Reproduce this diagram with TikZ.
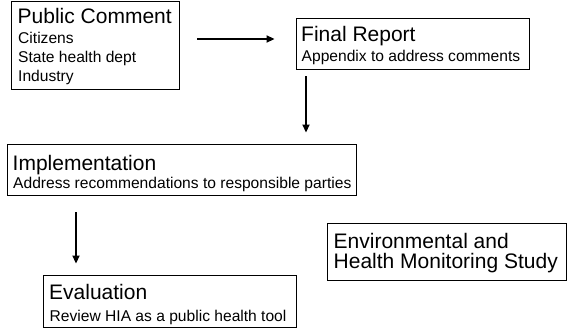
\documentclass[tikz,border=0pt]{standalone}
\usepackage{fontspec}
\setmainfont{Liberation Sans}
\usetikzlibrary{arrows.meta}
\tikzset{
  box/.style={draw=black, line width=0.9pt, inner sep=0pt},
  ttl/.style={anchor=base west, inner sep=0pt, font=\fontsize{21}{25}\selectfont},
  sub/.style={anchor=base west, inner sep=0pt, font=\fontsize{15.6}{19}\selectfont},
  arr/.style={line width=1.8pt, -{Triangle[length=8pt,width=7pt]}}
}
\begin{document}
\begin{tikzpicture}[x=1pt,y=-1pt]
\useasboundingbox (0,0) rectangle (571,329);
% boxes
\node[box, minimum width=168pt, minimum height=88pt] (pc) at (95,45) {};
\node[box, minimum width=233pt, minimum height=51pt] (fr) at (412.5,43.5) {};
\node[box, minimum width=349pt, minimum height=51pt] (impl) at (181.5,169.5) {};
\node[box, minimum width=253pt, minimum height=52pt] (ev) at (169.5,301) {};
\node[box, minimum width=239pt, minimum height=57pt] (env) at (446.5,251.5) {};
% texts
\node[ttl] (pct) at (17.5,24) {Public Comment};
\node[sub] (pc1) at (18,44) {Citizens};
\node[sub] (pc2) at (18,63) {State health dept};
\node[sub] (pc3) at (18,82) {Industry};
\node[ttl] (frt) at (301,42) {Final Report};
\node[sub] (fr1) at (301.5,61.5) {Appendix to address comments};
\node[ttl] (imt) at (12.5,170) {Implementation};
\node[sub] (im1) at (13,188.5) {Address recommendations to responsible parties};
\node[ttl] (evt) at (49,299) {Evaluation};
\node[sub] (ev1) at (49.5,321) {Review HIA as a public health tool};
\node[ttl] (en1) at (333.5,248) {Environmental and};
\node[ttl] (en2) at (333.5,268.5) {Health Monitoring Study};
% arrows
\draw[arr, shorten <=18pt, shorten >=21pt] (pc.east |- 0,39) -- (fr.west |- 0,39);
\draw[arr, shorten <=7pt, shorten >=11pt] (fr.south -| 306,0) -- (impl.north -| 306,0);
\draw[arr, shorten <=17pt, shorten >=11pt] (impl.south -| 76,0) -- (ev.north -| 76,0);
\end{tikzpicture}
\end{document}
